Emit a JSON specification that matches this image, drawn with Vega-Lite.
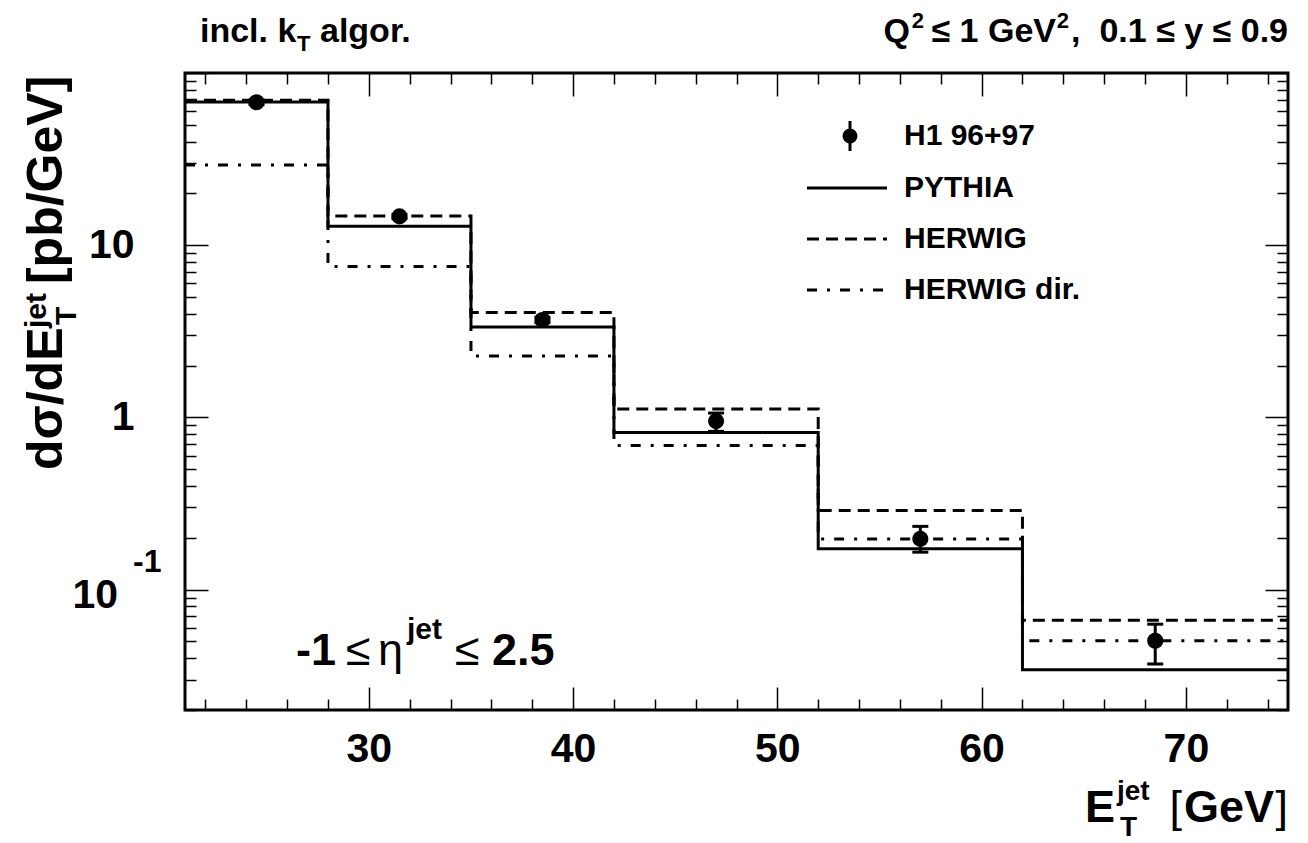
{
  "$schema": "https://vega.github.io/schema/vega-lite/v6.json",
  "width": 1103,
  "height": 637,
  "autosize": {"type": "none"},
  "padding": {"left": 185, "top": 73, "right": 20, "bottom": 133},
  "background": "white",
  "config": {
    "view": {"stroke": "black", "strokeWidth": 3},
    "font": "Liberation Sans",
    "text": {"font": "Liberation Sans", "color": "black"}
  },
  "datasets": {
    "mc": [
      {"model": "PYTHIA", "lo": 21, "hi": 28, "value": 67.8},
      {"model": "PYTHIA", "lo": 28, "hi": 35, "value": 12.9},
      {"model": "PYTHIA", "lo": 35, "hi": 42, "value": 3.35},
      {"model": "PYTHIA", "lo": 42, "hi": 52, "value": 0.818},
      {"model": "PYTHIA", "lo": 52, "hi": 62, "value": 0.173},
      {"model": "PYTHIA", "lo": 62, "hi": 75, "value": 0.0343},
      {"model": "HERWIG", "lo": 21, "hi": 28, "value": 69.5},
      {"model": "HERWIG", "lo": 28, "hi": 35, "value": 14.8},
      {"model": "HERWIG", "lo": 35, "hi": 42, "value": 4.07},
      {"model": "HERWIG", "lo": 42, "hi": 52, "value": 1.12},
      {"model": "HERWIG", "lo": 52, "hi": 62, "value": 0.288},
      {"model": "HERWIG", "lo": 62, "hi": 75, "value": 0.0663},
      {"model": "HERWIG dir.", "lo": 21, "hi": 28, "value": 29.2},
      {"model": "HERWIG dir.", "lo": 28, "hi": 35, "value": 7.52},
      {"model": "HERWIG dir.", "lo": 35, "hi": 42, "value": 2.27},
      {"model": "HERWIG dir.", "lo": 42, "hi": 52, "value": 0.688},
      {"model": "HERWIG dir.", "lo": 52, "hi": 62, "value": 0.197},
      {"model": "HERWIG dir.", "lo": 62, "hi": 75, "value": 0.0505}
    ],
    "h1": [
      {"label": "H1 96+97", "et": 24.5, "xs": 67.6, "lo": 65.5, "hi": 69.8},
      {"label": "H1 96+97", "et": 31.5, "xs": 14.7, "lo": 14.3, "hi": 15.1},
      {"label": "H1 96+97", "et": 38.5, "xs": 3.68, "lo": 3.55, "hi": 3.82},
      {"label": "H1 96+97", "et": 47, "xs": 0.952, "lo": 0.83, "hi": 1.06},
      {"label": "H1 96+97", "et": 57, "xs": 0.197, "lo": 0.165, "hi": 0.233},
      {"label": "H1 96+97", "et": 68.5, "xs": 0.0505, "lo": 0.037, "hi": 0.063}
    ]
  },
  "resolve": {"axis": {"x": "independent", "y": "independent"}},
  "layer": [
    {
      "data": {"name": "mc"},
      "transform": [{"fold": ["lo", "hi"], "as": ["end", "edge"]}],
      "mark": {"type": "line", "color": "black", "strokeWidth": 3, "strokeCap": "butt", "strokeJoin": "miter"},
      "encoding": {
        "x": {
          "field": "edge", "type": "quantitative",
          "scale": {"domain": [21, 75], "nice": false, "zero": false},
          "axis": {
            "orient": "bottom", "title": null, "domain": false, "grid": false,
            "values": [22,24,26,28,30,32,34,36,38,40,42,44,46,48,50,52,54,56,58,60,62,64,66,68,70,72,74],
            "labelExpr": "datum.value % 10 == 0 ? datum.label : ''",
            "tickSize": {"condition": {"test": "datum.value % 10 == 0", "value": -23}, "value": -11},
            "tickColor": "black", "tickWidth": 1.5,
            "labelPadding": 42, "labelFont": "Liberation Sans", "labelFontWeight": "bold", "labelFontSize": 41, "labelColor": "black",
            "labelOverlap": false, "labelFlush": false, "labelBound": false
          }
        },
        "y": {
          "field": "value", "type": "quantitative",
          "scale": {"type": "log", "domain": [0.02, 100], "nice": false},
          "axis": {
            "orient": "left", "title": null, "domain": false, "grid": false,
            "values": [0.02,0.03,0.04,0.05,0.06,0.07,0.08,0.09,0.1,0.2,0.3,0.4,0.5,0.6,0.7,0.8,0.9,1,2,3,4,5,6,7,8,9,10,20,30,40,50,60,70,80,90,100],
            "labelExpr": "datum.value == 10 ? '10' : (datum.value == 1 ? '1' : '')",
            "tickSize": {"condition": {"test": "datum.value == 0.1 || datum.value == 1 || datum.value == 10 || datum.value == 100", "value": -23}, "value": -11},
            "tickColor": "black", "tickWidth": 1.5,
            "labelPadding": 74, "labelFont": "Liberation Sans", "labelFontWeight": "bold", "labelFontSize": 41, "labelColor": "black",
            "labelOverlap": false, "labelFlush": false, "labelBound": false
          }
        },
        "strokeDash": {
          "field": "model", "type": "nominal",
          "scale": {"domain": ["PYTHIA", "HERWIG", "HERWIG dir."], "range": [[1, 0], [12, 7], [10, 10, 3, 10]]},
          "legend": {
            "orient": "none", "legendX": 647, "legendY": 100, "title": null, "padding": 0,
            "symbolType": "M-4,0H4", "symbolSize": 400, "symbolStrokeWidth": 3, "symbolStrokeColor": "black",
            "labelFont": "Liberation Sans", "labelFontWeight": "bold", "labelFontSize": 30, "labelColor": "black",
            "labelOffset": 42, "rowPadding": 21, "labelLimit": 400
          }
        },
        "order": [{"field": "edge", "type": "quantitative"}, {"field": "lo", "type": "quantitative"}]
      }
    },
    {
      "data": {"name": "h1"},
      "mark": {"type": "rule", "color": "black", "strokeWidth": 3},
      "encoding": {
        "x": {
          "field": "et", "type": "quantitative",
          "axis": {
            "orient": "top", "title": null, "domain": false, "grid": false, "labels": false,
            "values": [22,24,26,28,30,32,34,36,38,40,42,44,46,48,50,52,54,56,58,60,62,64,66,68,70,72,74],
            "tickSize": {"condition": {"test": "datum.value % 10 == 0", "value": -23}, "value": -11},
            "tickColor": "black", "tickWidth": 1.5
          }
        },
        "y": {
          "field": "lo", "type": "quantitative",
          "axis": {
            "orient": "right", "title": null, "domain": false, "grid": false, "labels": false,
            "values": [0.02,0.03,0.04,0.05,0.06,0.07,0.08,0.09,0.1,0.2,0.3,0.4,0.5,0.6,0.7,0.8,0.9,1,2,3,4,5,6,7,8,9,10,20,30,40,50,60,70,80,90,100],
            "tickSize": {"condition": {"test": "datum.value == 0.1 || datum.value == 1 || datum.value == 10 || datum.value == 100", "value": -23}, "value": -11},
            "tickColor": "black", "tickWidth": 1.5
          }
        },
        "y2": {"field": "hi"}
      }
    },
    {
      "data": {"name": "h1"},
      "mark": {"type": "tick", "orient": "horizontal", "size": 16, "thickness": 3, "color": "black", "opacity": 1},
      "encoding": {
        "x": {"field": "et", "type": "quantitative", "axis": null},
        "y": {"field": "lo", "type": "quantitative", "axis": null}
      }
    },
    {
      "data": {"name": "h1"},
      "mark": {"type": "tick", "orient": "horizontal", "size": 16, "thickness": 3, "color": "black", "opacity": 1},
      "encoding": {
        "x": {"field": "et", "type": "quantitative", "axis": null},
        "y": {"field": "hi", "type": "quantitative", "axis": null}
      }
    },
    {
      "data": {"name": "h1"},
      "mark": {"type": "point", "filled": true, "size": 260, "opacity": 1, "strokeWidth": 0},
      "encoding": {
        "x": {"field": "et", "type": "quantitative", "axis": null},
        "y": {"field": "xs", "type": "quantitative", "axis": null},
        "fill": {
          "field": "label", "type": "nominal",
          "scale": {"range": ["black"]},
          "legend": {
            "orient": "none", "legendX": 650, "legendY": 48, "title": null, "padding": 0,
            "symbolType": "M0.75,0L0.693,0.287L0.53,0.53L0.287,0.693L0,0.75L-0.287,0.693L-0.53,0.53L-0.693,0.287L-0.75,0L-0.693,-0.287L-0.53,-0.53L-0.287,-0.693L0,-0.75L0.287,-0.693L0.53,-0.53L0.693,-0.287ZM-0.15,-1.5L0.15,-1.5L0.15,1.5L-0.15,1.5Z",
            "symbolSize": 400, "symbolStrokeWidth": 0, "symbolOpacity": 1, "symbolFillColor": "black",
            "labelFont": "Liberation Sans", "labelFontWeight": "bold", "labelFontSize": 30, "labelColor": "black",
            "labelOffset": 39, "labelLimit": 400
          }
        }
      }
    },
    {
      "data": {"values": [{"t": "incl. k", "x": 21.734, "y": 151.4}]},
      "mark": {"type": "text", "fontWeight": "bold", "fontSize": 34, "align": "left", "baseline": "alphabetic"},
      "encoding": {"x": {"field": "x", "type": "quantitative", "axis": null}, "y": {"field": "y", "type": "quantitative", "axis": null}, "text": {"field": "t"}}
    },
    {
      "data": {"values": [{"t": "T", "x": 21.734, "y": 151.4}]},
      "mark": {"type": "text", "fontWeight": "bold", "fontSize": 22, "align": "left", "baseline": "alphabetic", "dx": 97, "dy": 9},
      "encoding": {"x": {"field": "x", "type": "quantitative", "axis": null}, "y": {"field": "y", "type": "quantitative", "axis": null}, "text": {"field": "t"}}
    },
    {
      "data": {"values": [{"t": "algor.", "x": 21.734, "y": 151.4}]},
      "mark": {"type": "text", "fontWeight": "bold", "fontSize": 34, "align": "left", "baseline": "alphabetic", "dx": 120},
      "encoding": {"x": {"field": "x", "type": "quantitative", "axis": null}, "y": {"field": "y", "type": "quantitative", "axis": null}, "text": {"field": "t"}}
    },
    {
      "data": {"values": [{"t": ", \u00a00.1 ≤ y ≤ 0.9", "x": 75, "y": 151.4}]},
      "mark": {"type": "text", "fontWeight": "bold", "fontSize": 34, "align": "right", "baseline": "alphabetic"},
      "encoding": {"x": {"field": "x", "type": "quantitative", "axis": null}, "y": {"field": "y", "type": "quantitative", "axis": null}, "text": {"field": "t"}}
    },
    {
      "data": {"values": [{"t": "2", "x": 75, "y": 151.4}]},
      "mark": {"type": "text", "fontWeight": "bold", "fontSize": 22, "align": "right", "baseline": "alphabetic", "dx": -219, "dy": -14},
      "encoding": {"x": {"field": "x", "type": "quantitative", "axis": null}, "y": {"field": "y", "type": "quantitative", "axis": null}, "text": {"field": "t"}}
    },
    {
      "data": {"values": [{"t": "≤ 1 GeV", "x": 75, "y": 151.4}]},
      "mark": {"type": "text", "fontWeight": "bold", "fontSize": 34, "align": "right", "baseline": "alphabetic", "dx": -232},
      "encoding": {"x": {"field": "x", "type": "quantitative", "axis": null}, "y": {"field": "y", "type": "quantitative", "axis": null}, "text": {"field": "t"}}
    },
    {
      "data": {"values": [{"t": "2", "x": 75, "y": 151.4}]},
      "mark": {"type": "text", "fontWeight": "bold", "fontSize": 22, "align": "right", "baseline": "alphabetic", "dx": -364, "dy": -14},
      "encoding": {"x": {"field": "x", "type": "quantitative", "axis": null}, "y": {"field": "y", "type": "quantitative", "axis": null}, "text": {"field": "t"}}
    },
    {
      "data": {"values": [{"t": "Q", "x": 75, "y": 151.4}]},
      "mark": {"type": "text", "fontWeight": "bold", "fontSize": 34, "align": "right", "baseline": "alphabetic", "dx": -378},
      "encoding": {"x": {"field": "x", "type": "quantitative", "axis": null}, "y": {"field": "y", "type": "quantitative", "axis": null}, "text": {"field": "t"}}
    },
    {
      "data": {"values": [{"t": "]", "x": 75, "y": 0.00447}]},
      "mark": {"type": "text", "fontWeight": "normal", "fontSize": 45, "align": "right", "baseline": "alphabetic"},
      "encoding": {"x": {"field": "x", "type": "quantitative", "axis": null}, "y": {"field": "y", "type": "quantitative", "axis": null}, "text": {"field": "t"}}
    },
    {
      "data": {"values": [{"t": "GeV", "x": 75, "y": 0.00447}]},
      "mark": {"type": "text", "fontWeight": "bold", "fontSize": 45, "align": "right", "baseline": "alphabetic", "dx": -14},
      "encoding": {"x": {"field": "x", "type": "quantitative", "axis": null}, "y": {"field": "y", "type": "quantitative", "axis": null}, "text": {"field": "t"}}
    },
    {
      "data": {"values": [{"t": "[", "x": 75, "y": 0.00447}]},
      "mark": {"type": "text", "fontWeight": "normal", "fontSize": 45, "align": "right", "baseline": "alphabetic", "dx": -106},
      "encoding": {"x": {"field": "x", "type": "quantitative", "axis": null}, "y": {"field": "y", "type": "quantitative", "axis": null}, "text": {"field": "t"}}
    },
    {
      "data": {"values": [{"t": "E", "x": 75, "y": 0.00447}]},
      "mark": {"type": "text", "fontWeight": "bold", "fontSize": 45, "align": "left", "baseline": "alphabetic", "dx": -203},
      "encoding": {"x": {"field": "x", "type": "quantitative", "axis": null}, "y": {"field": "y", "type": "quantitative", "axis": null}, "text": {"field": "t"}}
    },
    {
      "data": {"values": [{"t": "jet", "x": 75, "y": 0.00447}]},
      "mark": {"type": "text", "fontWeight": "bold", "fontSize": 28, "align": "left", "baseline": "alphabetic", "dx": -171, "dy": -22},
      "encoding": {"x": {"field": "x", "type": "quantitative", "axis": null}, "y": {"field": "y", "type": "quantitative", "axis": null}, "text": {"field": "t"}}
    },
    {
      "data": {"values": [{"t": "T", "x": 75, "y": 0.00447}]},
      "mark": {"type": "text", "fontWeight": "bold", "fontSize": 28, "align": "left", "baseline": "alphabetic", "dx": -168, "dy": 14},
      "encoding": {"x": {"field": "x", "type": "quantitative", "axis": null}, "y": {"field": "y", "type": "quantitative", "axis": null}, "text": {"field": "t"}}
    },
    {
      "data": {"values": [{"t": "dσ/dE", "x": 14.978, "y": 0.4948}]},
      "mark": {"type": "text", "fontWeight": "bold", "fontSize": 50, "align": "left", "baseline": "alphabetic", "angle": 270},
      "encoding": {"x": {"field": "x", "type": "quantitative", "axis": null}, "y": {"field": "y", "type": "quantitative", "axis": null}, "text": {"field": "t"}}
    },
    {
      "data": {"values": [{"t": "jet", "x": 14.978, "y": 0.4948}]},
      "mark": {"type": "text", "fontWeight": "bold", "fontSize": 30, "align": "left", "baseline": "alphabetic", "angle": 270, "dx": 142, "dy": -16},
      "encoding": {"x": {"field": "x", "type": "quantitative", "axis": null}, "y": {"field": "y", "type": "quantitative", "axis": null}, "text": {"field": "t"}}
    },
    {
      "data": {"values": [{"t": "T", "x": 14.978, "y": 0.4948}]},
      "mark": {"type": "text", "fontWeight": "bold", "fontSize": 30, "align": "left", "baseline": "alphabetic", "angle": 270, "dx": 145, "dy": 14},
      "encoding": {"x": {"field": "x", "type": "quantitative", "axis": null}, "y": {"field": "y", "type": "quantitative", "axis": null}, "text": {"field": "t"}}
    },
    {
      "data": {"values": [{"t": "[pb/GeV]", "x": 14.978, "y": 0.4948}]},
      "mark": {"type": "text", "fontWeight": "bold", "fontSize": 50, "align": "left", "baseline": "alphabetic", "angle": 270, "dx": 186},
      "encoding": {"x": {"field": "x", "type": "quantitative", "axis": null}, "y": {"field": "y", "type": "quantitative", "axis": null}, "text": {"field": "t"}}
    },
    {
      "data": {"values": [{"t": "10", "x": 21, "y": 0.1}]},
      "mark": {"type": "text", "fontWeight": "bold", "fontSize": 41, "align": "right", "baseline": "middle", "dx": -67, "dy": 6},
      "encoding": {"x": {"field": "x", "type": "quantitative", "axis": null}, "y": {"field": "y", "type": "quantitative", "axis": null}, "text": {"field": "t"}}
    },
    {
      "data": {"values": [{"t": "-1", "x": 21, "y": 0.1}]},
      "mark": {"type": "text", "fontWeight": "bold", "fontSize": 32, "align": "left", "baseline": "middle", "dx": -52, "dy": -28},
      "encoding": {"x": {"field": "x", "type": "quantitative", "axis": null}, "y": {"field": "y", "type": "quantitative", "axis": null}, "text": {"field": "t"}}
    },
    {
      "data": {"values": [{"t": "-1", "x": 26.434, "y": 0.0365}]},
      "mark": {"type": "text", "fontWeight": "bold", "fontSize": 45, "align": "left", "baseline": "alphabetic"},
      "encoding": {"x": {"field": "x", "type": "quantitative", "axis": null}, "y": {"field": "y", "type": "quantitative", "axis": null}, "text": {"field": "t"}}
    },
    {
      "data": {"values": [{"t": "≤", "x": 26.434, "y": 0.0365}]},
      "mark": {"type": "text", "fontWeight": "normal", "fontSize": 45, "align": "left", "baseline": "alphabetic", "dx": 50},
      "encoding": {"x": {"field": "x", "type": "quantitative", "axis": null}, "y": {"field": "y", "type": "quantitative", "axis": null}, "text": {"field": "t"}}
    },
    {
      "data": {"values": [{"t": "η", "x": 26.434, "y": 0.0365}]},
      "mark": {"type": "text", "fontWeight": "normal", "fontSize": 45, "align": "left", "baseline": "alphabetic", "dx": 82},
      "encoding": {"x": {"field": "x", "type": "quantitative", "axis": null}, "y": {"field": "y", "type": "quantitative", "axis": null}, "text": {"field": "t"}}
    },
    {
      "data": {"values": [{"t": "jet", "x": 26.434, "y": 0.0365}]},
      "mark": {"type": "text", "fontWeight": "bold", "fontSize": 30, "align": "left", "baseline": "alphabetic", "dx": 111, "dy": -26},
      "encoding": {"x": {"field": "x", "type": "quantitative", "axis": null}, "y": {"field": "y", "type": "quantitative", "axis": null}, "text": {"field": "t"}}
    },
    {
      "data": {"values": [{"t": "≤", "x": 26.434, "y": 0.0365}]},
      "mark": {"type": "text", "fontWeight": "normal", "fontSize": 45, "align": "left", "baseline": "alphabetic", "dx": 159},
      "encoding": {"x": {"field": "x", "type": "quantitative", "axis": null}, "y": {"field": "y", "type": "quantitative", "axis": null}, "text": {"field": "t"}}
    },
    {
      "data": {"values": [{"t": "2.5", "x": 26.434, "y": 0.0365}]},
      "mark": {"type": "text", "fontWeight": "bold", "fontSize": 45, "align": "left", "baseline": "alphabetic", "dx": 196},
      "encoding": {"x": {"field": "x", "type": "quantitative", "axis": null}, "y": {"field": "y", "type": "quantitative", "axis": null}, "text": {"field": "t"}}
    }
  ]
}
